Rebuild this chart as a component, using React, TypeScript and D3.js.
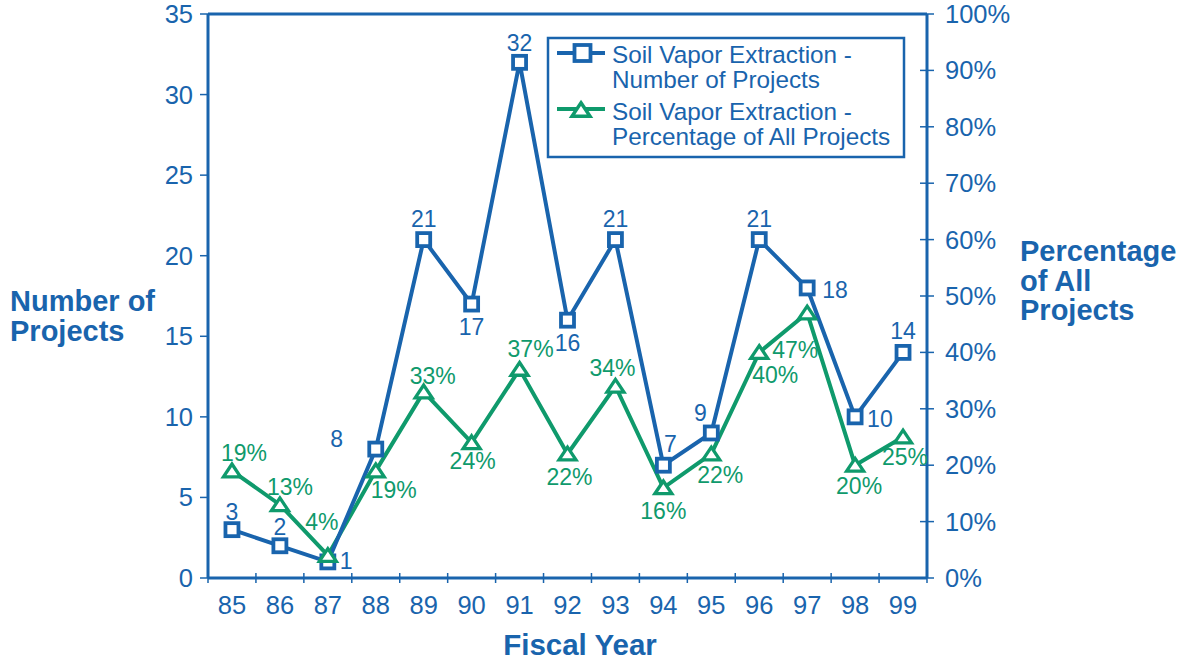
import React from "react";
import * as d3 from "d3";

const years = ["85", "86", "87", "88", "89", "90", "91", "92", "93", "94", "95", "96", "97", "98", "99"];
const projectCounts = [3, 2, 1, 8, 21, 17, 32, 16, 21, 7, 9, 21, 18, 10, 14];
const percentages = [19, 13, 4, 19, 33, 24, 37, 22, 34, 16, 22, 40, 47, 20, 25];
const leftTicks = [0, 5, 10, 15, 20, 25, 30, 35];
const rightTicks = [0, 10, 20, 30, 40, 50, 60, 70, 80, 90, 100];

// label placement offsets (dx, dy, anchor) per point
const countLabelPos: [number, number, string][] = [
  [0, -10, "middle"], [0, -11, "middle"], [12, 7, "start"], [-39, -2, "middle"], [0, -13, "middle"],
  [0, 31, "middle"], [0, -11, "middle"], [0, 31, "middle"], [0, -13, "middle"], [7, -13, "middle"],
  [-11, -12, "middle"], [0, -13, "middle"], [15, 10, "start"], [12, 10, "start"], [0, -13, "middle"],
];
const pctLabelPos: [number, number, string][] = [
  [12, -10, "middle"], [10, -10, "middle"], [-6, -25, "middle"], [18, 27, "middle"], [9, -8, "middle"],
  [1, 26, "middle"], [11, -12, "middle"], [2, 31, "middle"], [-3, -10, "middle"], [0, 31, "middle"],
  [9, 29, "middle"], [16, 31, "middle"], [-12, 45, "middle"], [4, 29, "middle"], [2, 28, "middle"],
];

const BLUE = "#1964ad";
const GREEN = "#0f9a6c";
const FONT = "'Liberation Sans', Arial, Helvetica, sans-serif";

export default function App() {
  const W = 1189, H = 662;
  const left = 208, right = 927, top = 14, bottom = 578;
  const x = d3.scaleBand<string>().domain(years).range([left, right]);
  const cx = (i: number) => (x(years[i]) as number) + x.bandwidth() / 2;
  const yL = d3.scaleLinear().domain([0, 35]).range([bottom, top]);
  const yR = d3.scaleLinear().domain([0, 100]).range([bottom, top]);

  const countLine = d3.line<number>().x((_, i) => cx(i)).y((d) => yL(d))(projectCounts) as string;
  const pctLine = d3.line<number>().x((_, i) => cx(i)).y((d) => yR(d))(percentages) as string;

  const tri = (px: number, py: number, s = 8.5) =>
    `M${px},${py - s * 0.8} L${px + s},${py + s * 0.7} L${px - s},${py + s * 0.7} Z`;

  return (
    <svg width={W} height={H} style={{ position: "absolute", left: 0, top: 0, fontFamily: FONT }}>
      <rect width={W} height={H} fill="#fff" />
      {/* frame */}
      <line x1={left} x2={right} y1={top} y2={top} stroke={BLUE} strokeWidth={3} />
      <line x1={left} x2={left} y1={top} y2={bottom} stroke={BLUE} strokeWidth={3} />
      <line x1={right} x2={right} y1={top} y2={bottom} stroke={BLUE} strokeWidth={3} />
      <line x1={left} x2={right} y1={bottom} y2={bottom} stroke={BLUE} strokeWidth={3} />
      {/* left ticks */}
      {leftTicks.map((t) => (
        <g key={"l" + t}>
          <line x1={left - 8} x2={left} y1={yL(t)} y2={yL(t)} stroke={BLUE} strokeWidth={1.5} />
          <text x={left - 15} y={yL(t) + 9} textAnchor="end" fontSize={25.5} fill={BLUE}>{t}</text>
        </g>
      ))}
      {/* right ticks */}
      {rightTicks.map((t) => (
        <g key={"r" + t}>
          <line x1={right - 7} x2={right + 7} y1={yR(t)} y2={yR(t)} stroke={BLUE} strokeWidth={1.5} />
          <text x={right + 18} y={yR(t) + 9} textAnchor="start" fontSize={25.5} fill={BLUE}>{t}%</text>
        </g>
      ))}
      {/* x ticks */}
      {years.map((yr, i) => (
        <g key={"x" + yr}>
          {i > 0 && (
            <line x1={x(yr) as number} x2={x(yr) as number} y1={bottom - 5} y2={bottom + 5} stroke={BLUE} strokeWidth={1.5} />
          )}
          <text x={cx(i)} y={614} textAnchor="middle" fontSize={25.5} fill={BLUE}>{yr}</text>
        </g>
      ))}
      <line x1={right} x2={right} y1={bottom - 5} y2={bottom + 5} stroke={BLUE} strokeWidth={1.5} />
      <line x1={left} x2={left} y1={bottom} y2={bottom + 5} stroke={BLUE} strokeWidth={1.5} />

      {/* axis titles */}
      <text x={580} y={655} textAnchor="middle" fontSize={29.5} fontWeight="bold" fill={BLUE}>Fiscal Year</text>
      <text x={10} y={311} fontSize={29} fontWeight="bold" fill={BLUE}>
        <tspan x={10}>Number of</tspan>
        <tspan x={10} dy={29.5}>Projects</tspan>
      </text>
      <text x={1020} y={261} fontSize={29} fontWeight="bold" fill={BLUE}>
        <tspan x={1020}>Percentage</tspan>
        <tspan x={1020} dy={29.5}>of All</tspan>
        <tspan x={1020} dy={29.5}>Projects</tspan>
      </text>

      {/* series */}
      <path d={pctLine} fill="none" stroke={GREEN} strokeWidth={4} strokeLinejoin="miter" />
      <path d={countLine} fill="none" stroke={BLUE} strokeWidth={4} strokeLinejoin="miter" />
      {projectCounts.map((v, i) => (
        <rect key={"s" + i} x={cx(i) - 6.5} y={yL(v) - 6.5} width={13} height={13} fill="#fff" stroke={BLUE} strokeWidth={3.8} />
      ))}
      {percentages.map((v, i) => (
        <path key={"t" + i} d={tri(cx(i), yR(v))} fill="#fff" stroke={GREEN} strokeWidth={3.3} />
      ))}
      {projectCounts.map((v, i) => (
        <text key={"cl" + i} x={cx(i) + countLabelPos[i][0]} y={yL(v) + countLabelPos[i][1]}
          textAnchor={countLabelPos[i][2] as any} fontSize={23} fill={BLUE}>{v}</text>
      ))}
      {percentages.map((v, i) => (
        <text key={"pl" + i} x={cx(i) + pctLabelPos[i][0]} y={yR(v) + pctLabelPos[i][1]}
          textAnchor={pctLabelPos[i][2] as any} fontSize={23} fill={GREEN}>{v}%</text>
      ))}

      {/* legend */}
      <rect x={548} y={38} width={356} height={119} fill="#fff" stroke={BLUE} strokeWidth={2.5} />
      <line x1={557} x2={605} y1={53} y2={53} stroke={BLUE} strokeWidth={4} />
      <rect x={574.5} y={45} width={16} height={16} fill="#fff" stroke={BLUE} strokeWidth={3.8} />
      <text x={612} y={63} fontSize={24.3} fill={BLUE}>
        <tspan x={612}>Soil Vapor Extraction -</tspan>
        <tspan x={612} dy={24.5}>Number of Projects</tspan>
      </text>
      <line x1={557} x2={605} y1={109} y2={109} stroke={GREEN} strokeWidth={4} />
      <path d={tri(581, 110, 9)} fill="#fff" stroke={GREEN} strokeWidth={3.5} />
      <text x={612} y={120} fontSize={24.3} fill={BLUE}>
        <tspan x={612}>Soil Vapor Extraction -</tspan>
        <tspan x={612} dy={24.5}>Percentage of All Projects</tspan>
      </text>
    </svg>
  );
}
